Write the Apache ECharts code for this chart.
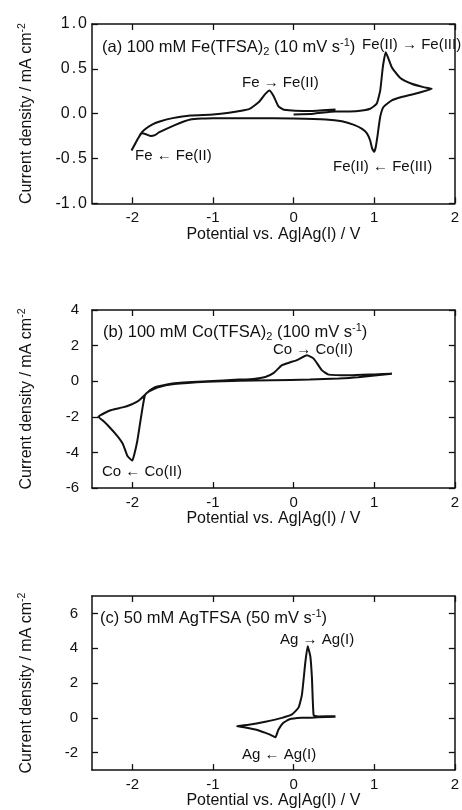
<!DOCTYPE html>
<html>
<head>
<meta charset="utf-8">
<script src="https://cdn.jsdelivr.net/npm/echarts@6/dist/echarts.min.js"></script>
<style>
  html, body { margin: 0; padding: 0; background: #fff; }
  #chart { width: 462px; height: 810px; }
</style>
</head>
<body>
<div id="chart"></div>
<script>
// Cyclic voltammograms: [potential / V vs Ag|Ag(I), current density / mA cm^-2], in scan order.
const feScan = [
  [0.00, -0.01], [0.25, 0.00], [0.52, 0.025], [0.65, 0.025], [0.80, 0.03], [0.95, 0.055],
  [1.03, 0.11], [1.075, 0.26], [1.107, 0.52], [1.143, 0.684], [1.218, 0.518], [1.32, 0.40],
  [1.465, 0.333], [1.61, 0.296], [1.713, 0.278],
  [1.507, 0.222], [1.34, 0.185], [1.218, 0.148], [1.115, 0.074], [1.074, -0.037], [1.045, -0.222],
  [1.02, -0.37], [1.0, -0.425], [0.975, -0.39], [0.95, -0.30], [0.91, -0.22], [0.85, -0.17],
  [0.75, -0.125], [0.6, -0.085], [0.4, -0.065], [0.0, -0.055], [-0.5, -0.05], [-1.0, -0.05],
  [-1.28, -0.065], [-1.48, -0.13], [-1.67, -0.21], [-1.72, -0.24], [-1.77, -0.25], [-1.83, -0.23],
  [-1.88, -0.22], [-1.95, -0.31], [-2.01, -0.41],
  [-1.96, -0.33], [-1.90, -0.23], [-1.85, -0.18], [-1.75, -0.12], [-1.65, -0.085], [-1.5, -0.05],
  [-1.28, -0.02], [-1.0, -0.01], [-0.8, 0.01], [-0.55, 0.05], [-0.43, 0.13], [-0.35, 0.22],
  [-0.30, 0.259], [-0.25, 0.20], [-0.19, 0.085], [-0.12, 0.044], [0.23, 0.03], [0.52, 0.045]
];

const coScan = [
  [1.22, 0.42], [0.8, 0.22], [0.56, 0.15], [0.2, 0.09], [-0.27, 0.056], [-0.68, 0.02],
  [-1.07, -0.03], [-1.48, -0.16], [-1.69, -0.35], [-1.78, -0.55], [-1.84, -0.75], [-1.87, -1.4],
  [-1.905, -2.4], [-1.94, -3.4], [-1.975, -4.1], [-2.0, -4.46], [-2.06, -4.2], [-2.12, -3.5],
  [-2.2, -3.0], [-2.3, -2.5], [-2.37, -2.2], [-2.42, -2.0],
  [-2.35, -1.8], [-2.26, -1.62], [-2.12, -1.47], [-2.02, -1.32], [-1.94, -1.15], [-1.89, -0.97],
  [-1.81, -0.62], [-1.75, -0.42], [-1.69, -0.30], [-1.48, -0.11], [-1.07, 0.0], [-0.68, 0.09],
  [-0.5, 0.13], [-0.35, 0.24], [-0.25, 0.45], [-0.144, 0.90], [-0.05, 1.05], [0.05, 1.2],
  [0.166, 1.46], [0.249, 1.27], [0.35, 0.62], [0.434, 0.37], [0.7, 0.33], [1.0, 0.38], [1.22, 0.42]
];

const agScan = [
  [0.52, 0.06], [0.3, 0.03], [0.1, 0.0], [-0.05, -0.08], [-0.13, -0.3], [-0.19, -0.7],
  [-0.225, -1.11], [-0.3, -0.95], [-0.45, -0.7], [-0.6, -0.55], [-0.70, -0.48],
  [-0.556, -0.40], [-0.35, -0.22], [-0.144, 0.0], [-0.02, 0.2], [0.063, 0.6], [0.104, 1.34],
  [0.146, 3.2], [0.175, 4.12], [0.208, 3.53], [0.228, 2.28], [0.249, 0.15], [0.3, 0.08], [0.52, 0.1]
];

// Tick values
const potentialTicks = [-2, -1, 0, 1, 2];
const feTicks = [-1, -0.5, 0, 0.5, 1];
const coTicks = [-6, -4, -2, 0, 2, 4];
const agTicks = [-2, 0, 2, 4, 6];

const FONT = "'Liberation Sans', Arial, Helvetica, sans-serif";
const INK = '#111';

const panels = [
  { scan: feScan, ticks: feTicks, min: -1, max: 1, digits: 1, top: 24, height: 179.3, labelGap: 5, labelSize: 16 },
  { scan: coScan, ticks: coTicks, min: -6, max: 4, digits: 0, top: 310, height: 178, labelGap: 13, labelSize: 15 },
  { scan: agScan, ticks: agTicks, min: -3, max: 7, digits: 0, top: 596, height: 178.3, labelGap: 14, labelSize: 15 }
];

// Decimal labels get a little air around the point
function currentLabel(v, digits) {
  const s = Number(v).toFixed(digits);
  if (digits === 0) return s;
  const parts = s.split('.');
  return parts[0] + '{dot|.}' + parts[1];
}

const grid = [], xAxis = [], yAxis = [], series = [];
const tickStyle = { show: true, inside: true, length: 6, lineStyle: { color: INK, width: 1.3 } };
const lineStyle = { color: INK, width: 1.5 };

panels.forEach((p, i) => {
  grid.push({ left: 92, right: 4, top: p.top, height: p.height });
  // bottom potential axis
  xAxis.push({
    type: 'value', gridIndex: i, position: 'bottom', min: -2.5, max: 2,
    axisLine: { show: true, onZero: false, lineStyle },
    axisTick: Object.assign({ customValues: potentialTicks }, tickStyle),
    axisLabel: { customValues: potentialTicks, margin: 7, color: INK, fontFamily: FONT, fontSize: 15,
                 showMinLabel: true, showMaxLabel: true },
    splitLine: { show: false },
    name: 'Potential vs. Ag|Ag(I) / V', nameLocation: 'middle', nameGap: 20,
    nameTextStyle: { color: INK, fontFamily: FONT, fontSize: 16 }
  });
  // mirrored top axis (frame + ticks)
  xAxis.push({
    type: 'value', gridIndex: i, position: 'top', min: -2.5, max: 2,
    axisLine: { show: true, onZero: false, lineStyle },
    axisTick: Object.assign({ customValues: potentialTicks }, tickStyle),
    axisLabel: { show: false }, splitLine: { show: false }
  });
  // left current axis
  yAxis.push({
    type: 'value', gridIndex: i, position: 'left', min: p.min, max: p.max,
    axisLine: { show: true, onZero: false, lineStyle },
    axisTick: Object.assign({ customValues: p.ticks }, tickStyle),
    axisLabel: { customValues: p.ticks, margin: p.labelGap, color: INK, fontFamily: FONT, fontSize: p.labelSize,
                 formatter: v => currentLabel(v, p.digits),
                 rich: { dot: { fontFamily: FONT, fontSize: p.labelSize, color: INK, padding: [0, 2, 0, 2] } } },
    splitLine: { show: false },
    name: 'Current density / mA cm{sup|-2}', nameLocation: 'middle', nameGap: 55,
    nameTextStyle: { color: INK, fontFamily: FONT, fontSize: 16, lineHeight: 20,
                     rich: { sup: { fontSize: 10.5, lineHeight: 10, verticalAlign: 'top', fontFamily: FONT, color: INK } } }
  });
  // mirrored right axis (frame + ticks)
  yAxis.push({
    type: 'value', gridIndex: i, position: 'right', min: p.min, max: p.max,
    axisLine: { show: true, onZero: false, lineStyle },
    axisTick: Object.assign({ customValues: p.ticks }, tickStyle),
    axisLabel: { show: false }, splitLine: { show: false }
  });
  series.push({
    type: 'line', xAxisIndex: 2 * i, yAxisIndex: 2 * i, data: p.scan,
    showSymbol: false, smooth: 0.15, lineStyle: { color: INK, width: 2 }, silent: true
  });
});

// Text annotations with sub/superscripts
function richStyles(size) {
  const s = Math.round(size * 0.68);
  return {
    sub: { fontSize: s, lineHeight: 10, verticalAlign: 'bottom', fontFamily: FONT, fill: INK },
    sup: { fontSize: s, lineHeight: 10, verticalAlign: 'top', fontFamily: FONT, fill: INK }
  };
}
function note(x, y, text, size) {
  size = size || 15;
  return {
    type: 'text', x: x, y: y, silent: true,
    style: { text: text, fill: INK, font: size + 'px ' + FONT, lineHeight: 20,
             verticalAlign: 'middle', align: 'left', rich: richStyles(size) }
  };
}

const graphic = [
  note(102, 47, '(a) 100 mM Fe(TFSA){sub|2} (10 mV s{sup|-1})', 16.5),
  note(362, 45, 'Fe(II) \u2192 Fe(III)'),
  note(242, 83, 'Fe \u2192 Fe(II)'),
  note(135, 156, 'Fe \u2190 Fe(II)'),
  note(333, 167, 'Fe(II) \u2190 Fe(III)'),
  note(103, 332, '(b) 100 mM Co(TFSA){sub|2} (100 mV s{sup|-1})', 16.5),
  note(273, 350, 'Co \u2192 Co(II)'),
  note(102, 472, 'Co \u2190 Co(II)'),
  note(100, 618, '(c) 50 mM AgTFSA (50 mV s{sup|-1})', 16.5),
  note(280, 640, 'Ag \u2192 Ag(I)'),
  note(242, 755, 'Ag \u2190 Ag(I)')
];

const chart = echarts.init(document.getElementById('chart'), null, { renderer: 'canvas' });
chart.setOption({
  animation: false,
  backgroundColor: '#fff',
  textStyle: { fontFamily: FONT },
  grid, xAxis, yAxis, series, graphic
});
</script>
</body>
</html>
